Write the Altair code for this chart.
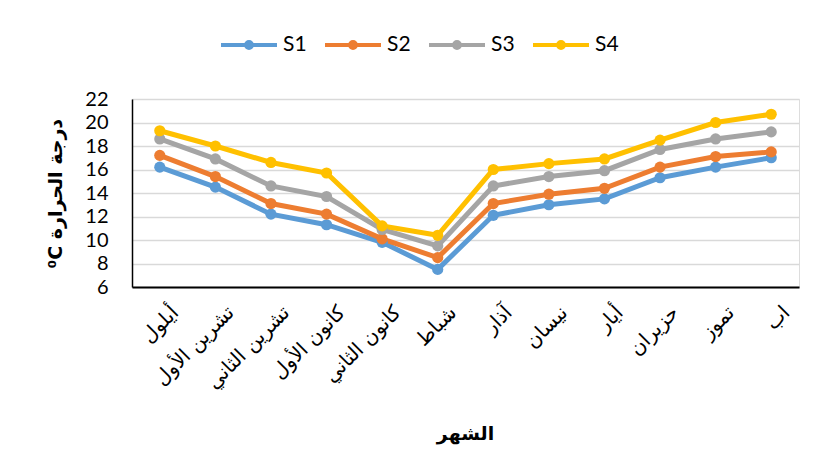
import altair as alt
import pandas as pd

months = ["أيلول", "تشرين الأول", "تشرين الثاني", "كانون الأول", "كانون الثاني", "شباط",
          "آذار", "نيسان", "أيار", "حزيران", "تموز", "اب"]
series_names = ["S1", "S2", "S3", "S4"]
s1 = [16.2, 14.5, 12.2, 11.3, 9.8, 7.5, 12.1, 13.0, 13.5, 15.3, 16.2, 17.0]
s2 = [17.2, 15.4, 13.1, 12.2, 10.1, 8.5, 13.1, 13.9, 14.4, 16.2, 17.1, 17.5]
s3 = [18.6, 16.9, 14.6, 13.7, 10.9, 9.5, 14.6, 15.4, 15.9, 17.7, 18.6, 19.2]
s4 = [19.3, 18.0, 16.6, 15.7, 11.2, 10.4, 16.0, 16.5, 16.9, 18.5, 20.0, 20.7]
colors = ["#5B9BD5", "#ED7D31", "#A5A5A5", "#FFC000"]
y_ticks = [6, 8, 10, 12, 14, 16, 18, 20, 22]

rows = []
for name, vals in zip(series_names, [s1, s2, s3, s4]):
    for m, v in zip(months, vals):
        rows.append({"month": m, "series": name, "value": v})
df = pd.DataFrame(rows)

legend_path = ("M-1,0L1,0"
               "M0.105,0A0.105,0.105,0,1,1,-0.105,0A0.105,0.105,0,1,1,0.105,0Z"
               "M0.05,0A0.05,0.05,0,1,1,-0.05,0A0.05,0.05,0,1,1,0.05,0Z")

chart = alt.Chart(df).mark_line(
    strokeWidth=5,
    point=alt.OverlayMarkDef(filled=True, size=125, opacity=1),
).encode(
    x=alt.X("month:N", sort=months,
            scale=alt.Scale(type="point", padding=0.5),
            axis=alt.Axis(title="الشهر", labelAngle=315, labelAlign="right",
                          labelBaseline="top", labelPadding=15, labelOffset=8,
                          labelFont="DejaVu Sans", labelFontSize=20,
                          labelColor="#000000", ticks=False, labelOverlap=False,
                          domainColor="#000000", domainWidth=2,
                          titleFont="DejaVu Sans", titleFontSize=19, titleFontWeight="bold",
                          titleColor="#000000", titleX=333, titleY=146,
                          titleAlign="center", titleBaseline="middle", grid=False)),
    y=alt.Y("value:Q",
            scale=alt.Scale(domain=[6, 22], nice=False, zero=False),
            axis=alt.Axis(values=y_ticks, title="⁰C درجة الحرارة",
                          labelFont="Lato", labelFontSize=20, labelColor="#000000",
                          labelPadding=24, ticks=False,
                          domainColor="#000000", domainWidth=1.5,
                          gridColor="#D9D9D9", gridWidth=1.5,
                          titleFont="DejaVu Sans", titleFontSize=19, titleFontWeight="bold",
                          titleColor="#000000", titleAngle=270, titleX=-77, titleY=94,
                          titleAlign="center", titleBaseline="middle")),
    color=alt.Color("series:N", sort=series_names,
                    scale=alt.Scale(domain=series_names, range=colors),
                    legend=alt.Legend(title=None, orient="none", direction="horizontal",
                                      legendX=87, legendY=-84, symbolType=legend_path,
                                      symbolSize=3136, symbolStrokeWidth=4,
                                      labelFont="Lato", labelFontSize=21,
                                      labelColor="#000000", labelOffset=4,
                                      columnPadding=10, padding=0)),
    order=alt.Order("series:N"),
).properties(
    width=667,
    height=188,
    autosize=alt.AutoSizeParams(type="none"),
    padding={"left": 124, "top": 91, "right": 10, "bottom": 170},
).configure_view(stroke=None).configure(background="#FFFFFF")

chart.save("out.html", embed_options={"renderer": "svg", "actions": False})
